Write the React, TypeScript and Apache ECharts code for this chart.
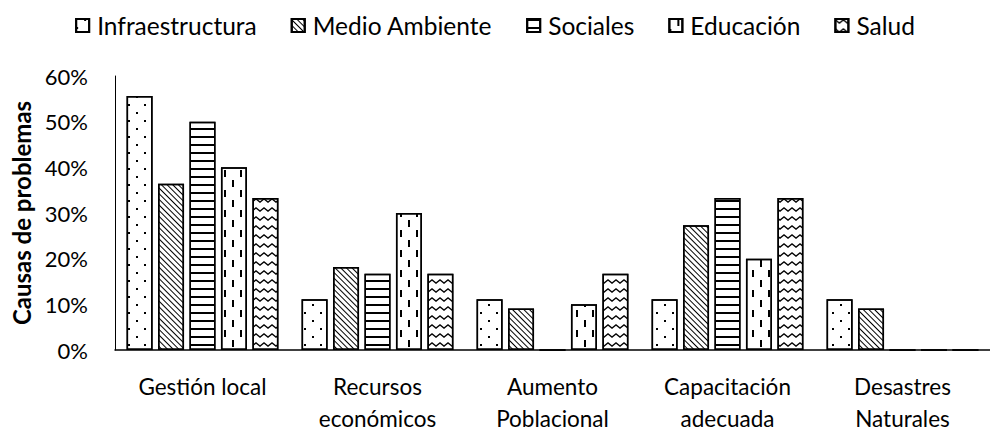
import React, { useEffect, useRef } from "react";
import * as echarts from "echarts";

const categories = [
  "Gestión local",
  "Recursos\neconómicos",
  "Aumento\nPoblacional",
  "Capacitación\nadecuada",
  "Desastres\nNaturales",
];
const seriesNames = ["Infraestructura", "Medio Ambiente", "Sociales", "Educación", "Salud"];
const infraestructura = [55.6, 11.1, 11.1, 11.1, 11.1];
const medioAmbiente = [36.4, 18.2, 9.1, 27.3, 9.1];
const sociales = [50, 16.7, 0, 33.3, 0];
const educacion = [40, 30, 10, 20, 0];
const salud = [33.3, 16.7, 16.7, 33.3, 0];
const yTicks = { min: 0, max: 60, interval: 10 };
const yAxisTitle = "Causas de problemas";

const FONT = "Lato, 'Open Sans', sans-serif";

const decals: any[] = [
  {
    symbol: "rect",
    symbolSize: 1,
    color: "#000",
    backgroundColor: "#fff",
    dashArrayX: [
      [2, 14],
      [0, 8, 2, 6],
    ],
    dashArrayY: [2, 6],
  },
  {
    symbol: "rect",
    symbolSize: 1,
    color: "#000",
    backgroundColor: "#fff",
    dashArrayX: [1, 0],
    dashArrayY: [1, 2.6],
    rotation: Math.PI / 4,
  },
  {
    symbol: "rect",
    symbolSize: 1,
    color: "#000",
    backgroundColor: "#fff",
    dashArrayX: [1, 0],
    dashArrayY: [2, 5.7],
  },
  {
    symbol: "rect",
    symbolSize: 1,
    color: "#000",
    backgroundColor: "#fff",
    dashArrayX: [
      [2, 14],
      [0, 8, 2, 6],
    ],
    dashArrayY: [7, 3],
  },
  {
    symbol: "path://M0,0 L4,3 L8,0 L8,1.6 L4,4.6 L0,1.6 Z",
    symbolSize: 1,
    symbolKeepAspect: false,
    color: "#000",
    backgroundColor: "#fff",
    dashArrayX: [8, 0],
    dashArrayY: [4.6, 3.4],
  },
];

export default function App() {
  const ref = useRef<HTMLDivElement>(null);
  useEffect(() => {
    document.body.style.margin = "0";
    const chart = echarts.init(ref.current!, undefined, { renderer: "svg" });
    const values = [infraestructura, medioAmbiente, sociales, educacion, salud];
    chart.setOption({
      animation: false,
      backgroundColor: "#fff",
      textStyle: { fontFamily: FONT },
      legend: {
        top: 8,
        left: "center",
        itemWidth: 13,
        itemHeight: 13,
        itemGap: 34,
        icon: "rect",
        textStyle: { fontSize: 24.5, color: "#000", fontFamily: FONT, padding: [0, 0, 0, 3] },
        data: seriesNames,
      },
      grid: { left: 115, top: 76, width: 883, bottom: 80, containLabel: false },
      xAxis: {
        type: "category",
        data: categories,
        axisLine: { show: true, lineStyle: { color: "#000", width: 1.5 } },
        axisTick: { show: false },
        axisLabel: {
          interval: 0,
          color: "#000",
          fontSize: 22.5,
          lineHeight: 32,
          margin: 20,
          fontFamily: FONT,
        },
      },
      yAxis: {
        type: "value",
        min: yTicks.min,
        max: yTicks.max,
        interval: yTicks.interval,
        name: yAxisTitle,
        nameLocation: "middle",
        nameGap: 80,
        nameTextStyle: { fontSize: 24, fontWeight: "bold", color: "#000", fontFamily: FONT },
        axisLine: { show: true, lineStyle: { color: "#000", width: 1 } },
        axisTick: { show: false },
        splitLine: { show: false },
        axisLabel: {
          formatter: "{value}%",
          color: "#000",
          fontSize: 22,
          margin: 27,
          fontFamily: FONT,
        },
      },
      series: seriesNames.map((name, i) => ({
        name,
        type: "bar",
        data: values[i],
        barWidth: 26,
        barGap: "21%",
        itemStyle: {
          color: "#fff",
          borderColor: "#000",
          borderWidth: 1.5,
          decal: decals[i],
        },
      })),
    });
    return () => chart.dispose();
  }, []);
  return <div ref={ref} style={{ width: 990, height: 434, position: "absolute", left: 0, top: 0 }} />;
}
